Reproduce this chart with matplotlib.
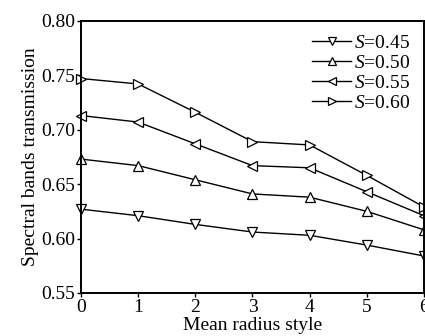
import matplotlib
matplotlib.use("Agg")
import matplotlib.pyplot as plt

# 数据
radius_style = [0, 1, 2, 3, 4, 5, 6]
s045 = [0.627, 0.621, 0.613, 0.606, 0.603, 0.594, 0.584]
s050 = [0.673, 0.667, 0.654, 0.641, 0.638, 0.625, 0.608]
s055 = [0.713, 0.707, 0.687, 0.667, 0.665, 0.643, 0.621]
s060 = [0.747, 0.742, 0.716, 0.689, 0.686, 0.658, 0.629]
series_labels = ["$S$=0.45", "$S$=0.50", "$S$=0.55", "$S$=0.60"]
markers = ["v", "^", "<", ">"]

plt.rcParams["font.family"] = ["Liberation Serif", "DejaVu Serif"]
plt.rcParams["mathtext.fontset"] = "custom"
plt.rcParams["mathtext.it"] = "Liberation Serif:italic"
plt.rcParams["mathtext.rm"] = "Liberation Serif"

fig = plt.figure(figsize=(4.25, 3.36), dpi=100)
ax = fig.add_axes([0.1906, 0.128, 0.807, 0.81])

for vals, lab, m in zip([s045, s050, s055, s060], series_labels, markers):
    ax.plot(radius_style, vals, color="black", linewidth=1.0, marker=m,
            markersize=7, markerfacecolor="white", markeredgecolor="black",
            markeredgewidth=0.9, label=lab, clip_on=False)

ax.set_xlim(0, 6)
ax.set_ylim(0.55, 0.80)
ax.set_xticks(radius_style)
ax.set_yticks([0.55, 0.60, 0.65, 0.70, 0.75, 0.80])
ax.set_yticklabels(["0.55", "0.60", "0.65", "0.70", "0.75", "0.80"])
ax.tick_params(direction="out", length=3, width=1, labelsize=14, pad=1)

for sp in ax.spines.values():
    sp.set_linewidth(1.4)

ax.set_xlabel("Mean radius style", fontsize=14, labelpad=1)
ax.set_ylabel("Spectral bands transmission", fontsize=14, labelpad=2)

leg = ax.legend(loc="upper right", frameon=False, fontsize=14, handlelength=2.0,
                handletextpad=0.15, labelspacing=0.12, borderaxespad=0.3,
                markerscale=0.85)

fig.savefig("out.png", dpi=100)
